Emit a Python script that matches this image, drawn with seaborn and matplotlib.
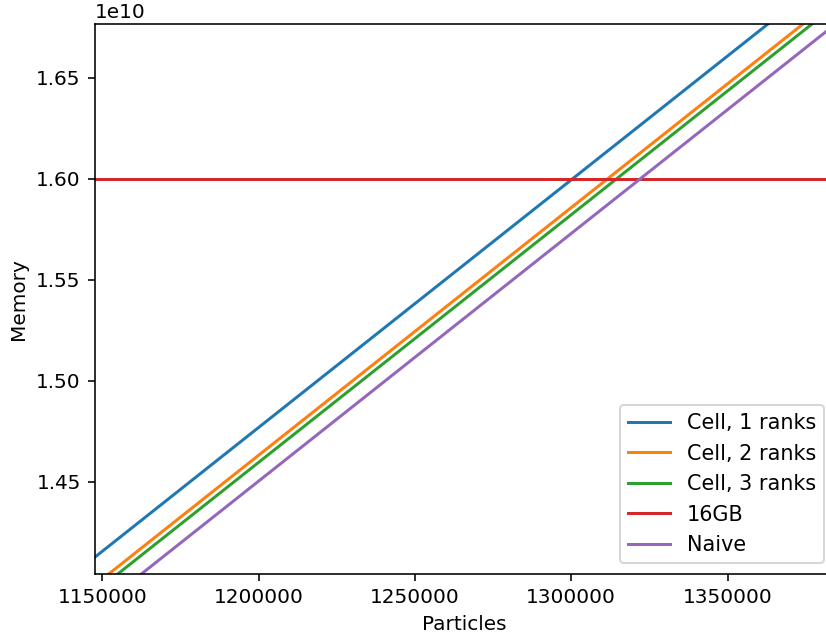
import matplotlib
matplotlib.use("Agg")
import matplotlib.pyplot as plt
import seaborn as sns
import pandas as pd

# Data (straight lines, endpoints beyond the view)
particles = [1100000, 1400000]
cell_1_ranks = [1.35446e10, 1.72196e10]
cell_2_ranks = [1.34072e10, 1.70822e10]
cell_3_ranks = [1.33719e10, 1.70469e10]
limit_16gb = [1.6e10, 1.6e10]
naive = [1.32792e10, 1.69542e10]
series_names = ["Cell, 1 ranks", "Cell, 2 ranks", "Cell, 3 ranks", "16GB", "Naive"]
series_values = [cell_1_ranks, cell_2_ranks, cell_3_ranks, limit_16gb, naive]

rows = []
for name, vals in zip(series_names, series_values):
    for p, v in zip(particles, vals):
        rows.append({"Particles": p, "Memory": v, "series": name})
df = pd.DataFrame(rows)

plt.rcParams["axes.formatter.limits"] = (-7, 7)
plt.rcParams["font.family"] = ["DejaVu Sans"]

fig = plt.figure(figsize=(826 / 144, 641 / 144), dpi=144)
# the reference is cropped on the right: the axes runs slightly past the image edge
ax = fig.add_axes([0.1147, 0.105, 1.0103 - 0.1147, 0.963 - 0.105])

palette = ["#1f77b4", "#ff7f0e", "#2ca02c", "#d62728", "#9467bd"]
sns.lineplot(data=df, x="Particles", y="Memory", hue="series",
             hue_order=series_names, palette=palette, ax=ax,
             linewidth=1.5, estimator=None, sort=True)

ax.set_xlim(1147560, 1384230)
ax.set_ylim(1.4046e10, 1.6767e10)
ax.set_xticks([1150000, 1200000, 1250000, 1300000, 1350000])
ax.set_yticks([1.45e10, 1.50e10, 1.55e10, 1.60e10, 1.65e10])
ax.set_xlabel("Particles")
ax.set_ylabel("Memory")
ax.legend(loc="lower right", title=None, fontsize=10.4)

fig.savefig("out.png", dpi=144)
